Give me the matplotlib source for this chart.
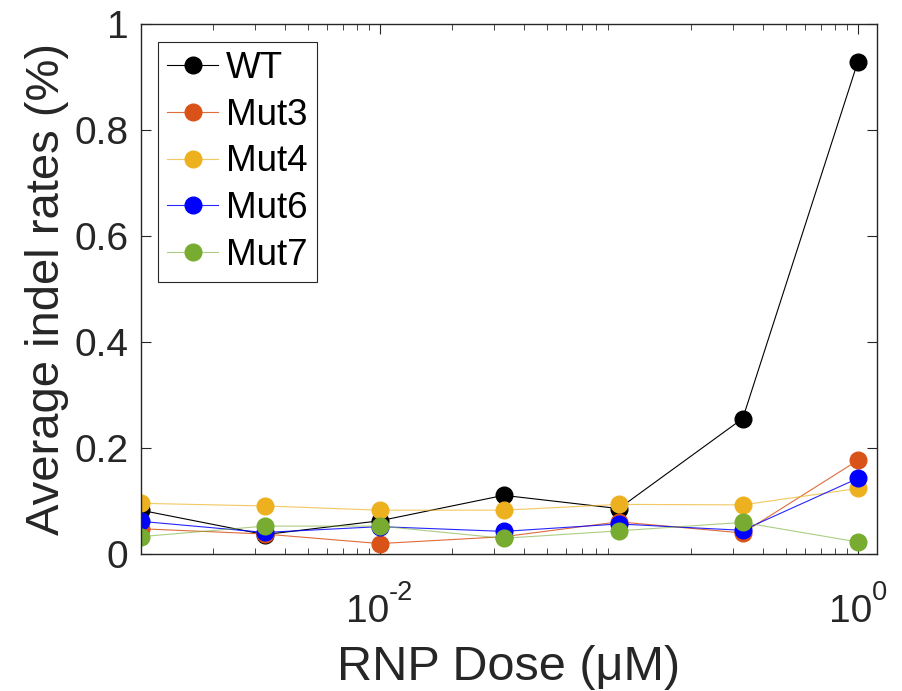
import matplotlib.pyplot as plt

plt.rcParams['font.family'] = ['Liberation Sans', 'DejaVu Sans']

# RNP dose series (uM)
doses = [0.001, 0.0033, 0.01, 0.033, 0.1, 0.33, 1.0]

# average indel rates (%)
wt = [0.083, 0.037, 0.063, 0.111, 0.086, 0.256, 0.929]
mut3 = [0.048, 0.038, 0.020, 0.033, 0.061, 0.040, 0.177]
mut4 = [0.096, 0.091, 0.083, 0.083, 0.094, 0.093, 0.124]
mut6 = [0.062, 0.041, 0.052, 0.043, 0.057, 0.045, 0.143]
mut7 = [0.033, 0.053, 0.053, 0.030, 0.044, 0.060, 0.023]

labels = ['WT', 'Mut3', 'Mut4', 'Mut6', 'Mut7']
colors = [(0, 0, 0), (0.85, 0.325, 0.098), (0.929, 0.694, 0.125),
          (0, 0, 1), (0.466, 0.674, 0.188)]
line_alpha = [1.0, 0.85, 0.7, 0.85, 0.6]

xtick_vals = [0.01, 1]
xtick_exps = ['-2', '0']

fig = plt.figure(figsize=(9.02, 6.91), dpi=100)
ax = fig.add_axes([0.156, 0.198, 0.816, 0.767])

for ys, lab, c, a in zip([wt, mut3, mut4, mut6, mut7], labels, colors, line_alpha):
    ax.plot(doses, ys, '-o', color=(*c, a), lw=0.8, markersize=12,
            markerfacecolor=c, markeredgecolor=c, label=lab)

ax.set_xscale('log')
ax.set_xlim(0.001, 1.2)
ax.set_ylim(0, 1)
ax.set_xticks(xtick_vals)
ax.set_xticklabels([])
ax.set_yticks([0, 0.2, 0.4, 0.6, 0.8, 1])
ax.set_yticklabels(['0', '0.2', '0.4', '0.6', '0.8', '1'])

gray = (0.15, 0.15, 0.15)
for s in ax.spines.values():
    s.set_color(gray)
    s.set_linewidth(1.0)
ax.tick_params(which='both', direction='in', top=True, right=True,
               color=gray, labelcolor=gray, labelsize=28)
ax.tick_params(which='major', length=7)
ax.tick_params(which='minor', length=4)
ax.tick_params(axis='y', pad=9)

# power-of-ten tick labels with a raised exponent, centred under each tick
renderer = fig.canvas.get_renderer()
for v, e in zip(xtick_vals, xtick_exps):
    base = ax.annotate('10', xy=(v, 0), xycoords=('data', 'axes fraction'),
                       xytext=(0, -68), textcoords='offset pixels',
                       ha='left', va='baseline', fontsize=28, color=gray)
    sup = ax.annotate(e, xy=(v, 0), xycoords=('data', 'axes fraction'),
                      xytext=(0, -46), textcoords='offset pixels',
                      ha='left', va='baseline', fontsize=19.6, color=gray)
    wb = base.get_window_extent(renderer).width
    ws = sup.get_window_extent(renderer).width
    x0 = -(wb + ws) / 2
    base.xyann = (x0, -68)
    sup.xyann = (x0 + wb, -46)

ax.set_xlabel('RNP Dose (μM)', fontsize=35, color=gray)
ax.xaxis.set_label_coords(0.5, -0.172)
ax.set_ylabel('Average indel rates (%)', fontsize=34, color=gray, labelpad=4)

leg = ax.legend(loc='upper left', bbox_to_anchor=(0.023, 0.967), fontsize=26.5,
                frameon=True, fancybox=False, edgecolor=gray, framealpha=1,
                handlelength=1.4, handletextpad=0.2, labelspacing=0.32,
                borderpad=0.25, borderaxespad=0)
leg.get_frame().set_linewidth(0.8)

fig.savefig('out.png', dpi=100)
